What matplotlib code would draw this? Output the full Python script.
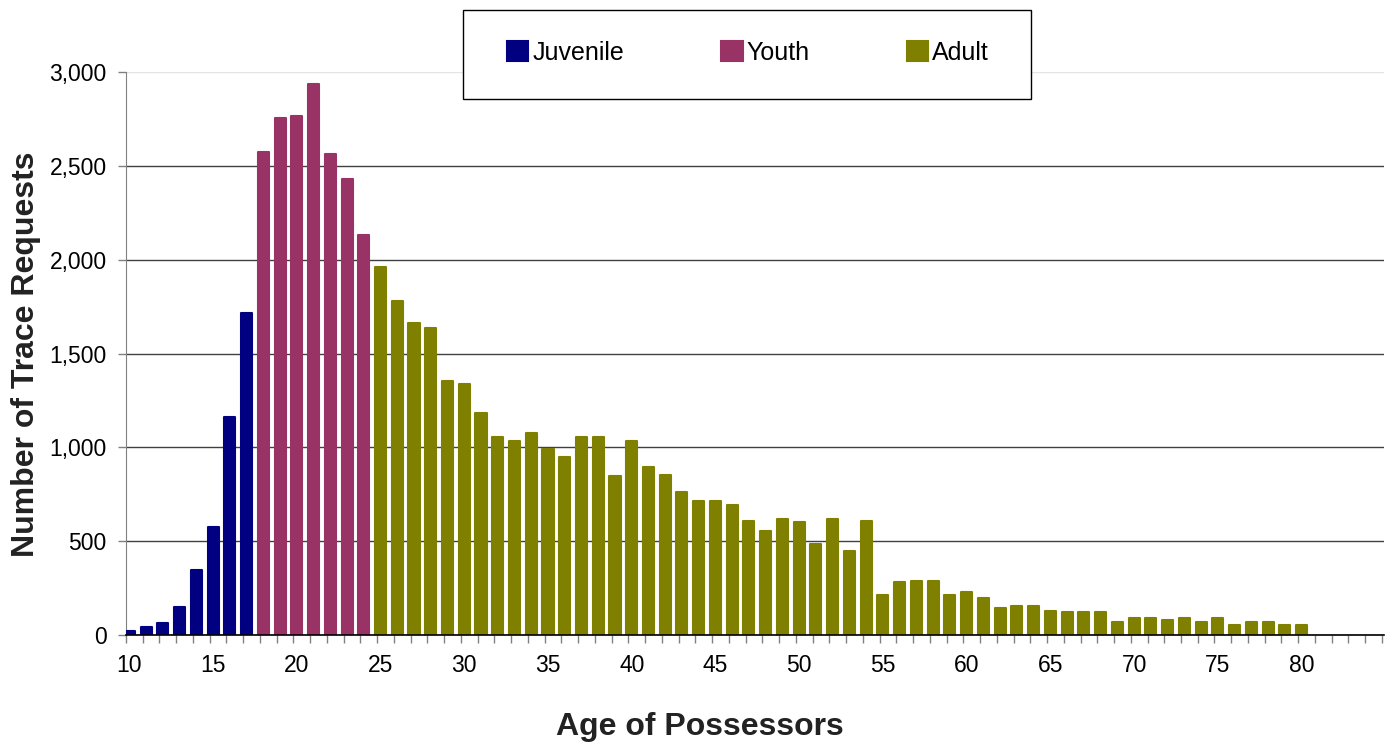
import matplotlib
matplotlib.use("Agg")
import matplotlib.pyplot as plt
from matplotlib.patches import Rectangle
from matplotlib.ticker import FixedLocator, FuncFormatter
import numpy as np

# trace requests by age of possessor
juvenile_ages = list(range(10, 18))
juvenile = [20, 45, 65, 150, 345, 575, 1160, 1715]

youth_ages = list(range(18, 25))
youth = [2575, 2755, 2765, 2935, 2565, 2430, 2130]

adult_ages = list(range(25, 81))
adult = [1960, 1780, 1665, 1635, 1355, 1335, 1185, 1055, 1035, 1075,
         990, 950, 1055, 1055, 845, 1035, 895, 855, 760, 715,
         715, 695, 610, 555, 620, 600, 485, 620, 450, 610,
         215, 285, 290, 290, 215, 230, 195, 145, 155, 155,
         130, 120, 120, 120, 70, 90, 90, 80, 90, 70,
         90, 55, 70, 70, 55, 55]

groups = ["Juvenile", "Youth", "Adult"]
colors = ["#000080", "#993366", "#808000"]
x_labels = list(range(10, 81, 5))
y_ticks = [0, 500, 1000, 1500, 2000, 2500, 3000]

plt.rcParams['font.family'] = ['Liberation Sans', 'DejaVu Sans']

fig = plt.figure(figsize=(13.86, 7.44), dpi=100)
ax = fig.add_axes([0.0909, 0.1465, 0.908, 0.7567])

series = [(juvenile_ages, juvenile), (youth_ages, youth), (adult_ages, adult)]
for (xs, ys), name, c in zip(series, groups, colors):
    ax.bar(xs, ys, width=0.66, color=c, edgecolor=c, linewidth=1.5,
           joinstyle='round', label=name, zorder=3)

ax.set_xlim(9.8, 84.95)
ax.set_ylim(0, 3000)

# y axis
ax.set_yticks(y_ticks)
ax.yaxis.set_major_formatter(FuncFormatter(lambda v, p: f"{int(v):,}"))
ax.tick_params(axis='y', direction='out', length=6, width=1, color='#808080',
               labelsize=16.5, pad=8)
ax.grid(axis='y', color='#404040', linewidth=1, zorder=0)
ax.get_ygridlines()[-1].set_color('#e4e4e4')
ax.set_axisbelow(True)

# x axis: labels every 5, tick marks between categories
ax.xaxis.set_major_locator(FixedLocator(x_labels))
ax.xaxis.set_minor_locator(FixedLocator(np.arange(9.8, 85, 1.0)))
ax.tick_params(axis='x', which='major', length=0, labelsize=16.5, pad=14)
ax.tick_params(axis='x', which='minor', direction='out', length=6, width=1,
               color='#808080')

for s in ['top', 'right']:
    ax.spines[s].set_visible(False)
ax.spines['left'].set_color('#808080')
ax.spines['bottom'].set_color('black')
ax.spines['bottom'].set_linewidth(1.2)
ax.spines['bottom'].set_zorder(4)

fig.text(0.019, 0.524, "Number of Trace Requests", rotation=90, ha='center',
         va='center', fontsize=23, fontweight='bold', color='#222222')
fig.text(0.505, 0.023, "Age of Possessors", ha='center', va='center',
         fontsize=23, fontweight='bold', color='#222222')

# legend box
box = Rectangle((463 / 1386, 1 - 99 / 744), (1031 - 463) / 1386, 89 / 744,
                transform=fig.transFigure, facecolor='white', edgecolor='black',
                linewidth=1, zorder=4)
fig.patches.append(box)
handles, labels = ax.get_legend_handles_labels()
leg = fig.legend(handles, labels, loc='center', ncol=3,
                 bbox_to_anchor=(748 / 1386, 1 - 53 / 744), frameon=False,
                 fontsize=18, handlelength=0.85, handleheight=0.85,
                 handletextpad=0.15, columnspacing=3.9, borderpad=0)
leg.set_zorder(5)

fig.savefig("out.png", dpi=100)
